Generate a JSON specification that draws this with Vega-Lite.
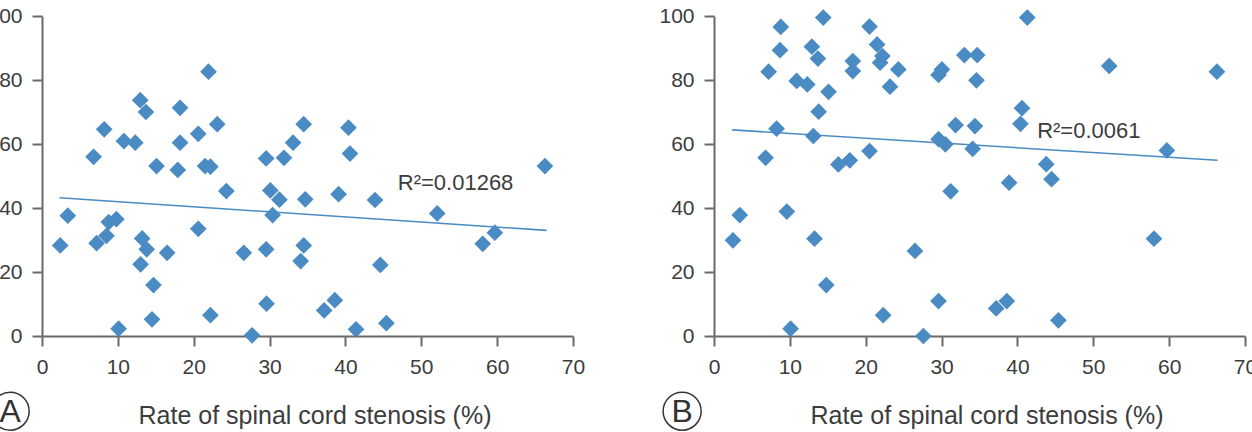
{
  "$schema": "https://vega.github.io/schema/vega-lite/v6.json",
  "autosize": {"type": "none"},
  "padding": {"left": 42, "top": 16, "right": 1210, "bottom": 416},
  "background": "white",
  "spacing": 141,
  "bounds": "flush",
  "datasets": {
    "pointsA": [
      {"rate": 2.4, "score": 28.3}, {"rate": 3.4, "score": 37.6}, {"rate": 6.8, "score": 56.0}, {"rate": 7.2, "score": 29.0},
      {"rate": 8.2, "score": 64.6}, {"rate": 8.5, "score": 31.3}, {"rate": 8.8, "score": 35.6}, {"rate": 9.8, "score": 36.5},
      {"rate": 10.1, "score": 2.3}, {"rate": 10.8, "score": 60.9}, {"rate": 12.3, "score": 60.4}, {"rate": 12.95, "score": 73.7},
      {"rate": 13.0, "score": 22.4}, {"rate": 13.2, "score": 30.5}, {"rate": 13.7, "score": 70.0}, {"rate": 13.8, "score": 27.1},
      {"rate": 14.5, "score": 5.2}, {"rate": 14.7, "score": 15.9}, {"rate": 15.1, "score": 53.1}, {"rate": 16.5, "score": 26.0},
      {"rate": 17.9, "score": 51.9}, {"rate": 18.2, "score": 71.3}, {"rate": 18.2, "score": 60.4}, {"rate": 20.6, "score": 63.2},
      {"rate": 20.6, "score": 33.5}, {"rate": 21.5, "score": 53.1}, {"rate": 21.95, "score": 82.6}, {"rate": 22.2, "score": 52.9},
      {"rate": 22.2, "score": 6.5}, {"rate": 23.1, "score": 66.2}, {"rate": 24.3, "score": 45.3}, {"rate": 26.6, "score": 26.0},
      {"rate": 27.7, "score": 0.2}, {"rate": 29.55, "score": 55.5}, {"rate": 29.55, "score": 27.1}, {"rate": 29.6, "score": 10.1},
      {"rate": 30.1, "score": 45.5}, {"rate": 30.4, "score": 37.8}, {"rate": 31.3, "score": 42.6}, {"rate": 31.9, "score": 55.7},
      {"rate": 33.1, "score": 60.4}, {"rate": 34.1, "score": 23.4}, {"rate": 34.5, "score": 66.2}, {"rate": 34.5, "score": 28.3},
      {"rate": 34.7, "score": 42.7}, {"rate": 37.2, "score": 8.0}, {"rate": 38.6, "score": 11.2}, {"rate": 39.1, "score": 44.3},
      {"rate": 40.4, "score": 65.1}, {"rate": 40.6, "score": 57.0}, {"rate": 41.4, "score": 2.1}, {"rate": 43.9, "score": 42.5},
      {"rate": 44.6, "score": 22.2}, {"rate": 45.4, "score": 4.0}, {"rate": 52.1, "score": 38.3}, {"rate": 58.1, "score": 28.8},
      {"rate": 59.7, "score": 32.3}, {"rate": 66.3, "score": 53.1}
    ],
    "pointsB": [
      {"rate": 2.5, "score": 29.9}, {"rate": 3.4, "score": 37.8}, {"rate": 6.8, "score": 55.7}, {"rate": 7.2, "score": 82.6},
      {"rate": 8.25, "score": 64.8}, {"rate": 8.7, "score": 89.3}, {"rate": 8.8, "score": 96.6}, {"rate": 9.6, "score": 38.9},
      {"rate": 10.1, "score": 2.3}, {"rate": 10.9, "score": 79.7}, {"rate": 12.3, "score": 78.6}, {"rate": 12.9, "score": 90.4},
      {"rate": 13.1, "score": 62.5}, {"rate": 13.25, "score": 30.4}, {"rate": 13.7, "score": 86.7}, {"rate": 13.8, "score": 70.1},
      {"rate": 14.4, "score": 99.5}, {"rate": 14.8, "score": 15.9}, {"rate": 15.1, "score": 76.3}, {"rate": 16.4, "score": 53.6},
      {"rate": 17.9, "score": 54.9}, {"rate": 18.3, "score": 85.9}, {"rate": 18.3, "score": 82.8}, {"rate": 20.5, "score": 96.7},
      {"rate": 20.5, "score": 57.8}, {"rate": 21.5, "score": 91.1}, {"rate": 21.9, "score": 85.4}, {"rate": 22.2, "score": 87.5},
      {"rate": 22.3, "score": 6.5}, {"rate": 23.2, "score": 77.9}, {"rate": 24.3, "score": 83.3}, {"rate": 26.5, "score": 26.6},
      {"rate": 27.6, "score": 0.0}, {"rate": 29.6, "score": 81.6}, {"rate": 30.05, "score": 83.3}, {"rate": 29.6, "score": 61.5},
      {"rate": 30.5, "score": 59.9}, {"rate": 29.6, "score": 10.9}, {"rate": 31.2, "score": 45.2}, {"rate": 31.85, "score": 65.9},
      {"rate": 33.0, "score": 87.8}, {"rate": 34.7, "score": 87.8}, {"rate": 34.6, "score": 79.9}, {"rate": 34.4, "score": 65.6},
      {"rate": 34.1, "score": 58.5}, {"rate": 37.2, "score": 8.6}, {"rate": 38.6, "score": 10.9}, {"rate": 38.9, "score": 47.9},
      {"rate": 40.4, "score": 66.3}, {"rate": 40.6, "score": 71.2}, {"rate": 41.3, "score": 99.5}, {"rate": 43.8, "score": 53.7},
      {"rate": 44.5, "score": 49.0}, {"rate": 45.4, "score": 4.9}, {"rate": 52.1, "score": 84.4}, {"rate": 58.0, "score": 30.4},
      {"rate": 59.7, "score": 58.0}, {"rate": 66.3, "score": 82.6}
    ],
    "fitA": [{"rate": 2.3, "score": 43.2}, {"rate": 66.5, "score": 33.0}],
    "fitB": [{"rate": 2.4, "score": 64.4}, {"rate": 66.4, "score": 54.9}],
    "labelA": [{"panel": "A", "r2": "R²=0.01268"}],
    "labelB": [{"panel": "B", "r2": "R²=0.0061"}]
  },
  "config": {
    "view": {"stroke": null},
    "font": "Liberation Sans",
    "axis": {
      "grid": false,
      "domainColor": "#6a6a6a",
      "domainWidth": 2,
      "tickColor": "#6a6a6a",
      "tickWidth": 2,
      "tickSize": 10,
      "labelFontSize": 21,
      "labelColor": "#3c3c3c",
      "labelPadding": 10,
      "labelFlush": false,
      "labelOverlap": false,
      "titleFontSize": 25,
      "titleFontWeight": "normal",
      "titleColor": "#3c3c3c"
    }
  },
  "hconcat": [
    {
      "width": 531,
      "height": 320,
      "layer": [
        {
          "data": {"name": "pointsA"},
          "mark": {"type": "point", "shape": "diamond", "filled": true, "size": 280, "color": "#4a8bc4", "opacity": 1},
          "encoding": {
            "x": {"field": "rate", "type": "quantitative", "scale": {"domain": [0, 70], "nice": false}, "axis": {"values": [0, 10, 20, 30, 40, 50, 60, 70], "title": "Rate of spinal cord stenosis (%)", "titlePadding": 26, "titleX": 272.5}},
            "y": {"field": "score", "type": "quantitative", "scale": {"domain": [0, 100], "nice": false}, "axis": {"values": [0, 20, 40, 60, 80, 100], "title": null}}
          }
        },
        {
          "data": {"name": "fitA"},
          "mark": {"type": "line", "color": "#4a8bc4", "strokeWidth": 1.6},
          "encoding": {
            "x": {"field": "rate", "type": "quantitative"},
            "y": {"field": "score", "type": "quantitative"}
          }
        },
        {
          "data": {"name": "labelA"},
          "mark": {"type": "text", "align": "left", "baseline": "middle", "fontSize": 22, "color": "#3c3c3c"},
          "encoding": {"text": {"field": "r2"}, "x": {"datum": 46.9}, "y": {"datum": 47.8}}
        },
        {
          "data": {"name": "labelA"},
          "mark": {"type": "point", "shape": "circle", "size": 1444, "filled": false, "stroke": "#333333", "strokeWidth": 1.5, "opacity": 1},
          "encoding": {"x": {"datum": -4.2}, "y": {"datum": -23.5}}
        },
        {
          "data": {"name": "labelA"},
          "mark": {"type": "text", "fontSize": 32, "align": "center", "baseline": "middle", "color": "#333333", "dy": 1},
          "encoding": {"text": {"field": "panel"}, "x": {"datum": -4.2}, "y": {"datum": -23.5}}
        }
      ]
    },
    {
      "width": 531,
      "height": 320,
      "layer": [
        {
          "data": {"name": "pointsB"},
          "mark": {"type": "point", "shape": "diamond", "filled": true, "size": 280, "color": "#4a8bc4", "opacity": 1},
          "encoding": {
            "x": {"field": "rate", "type": "quantitative", "scale": {"domain": [0, 70], "nice": false}, "axis": {"values": [0, 10, 20, 30, 40, 50, 60, 70], "title": "Rate of spinal cord stenosis (%)", "titlePadding": 26, "titleX": 272.5}},
            "y": {"field": "score", "type": "quantitative", "scale": {"domain": [0, 100], "nice": false}, "axis": {"values": [0, 20, 40, 60, 80, 100], "title": null}}
          }
        },
        {
          "data": {"name": "fitB"},
          "mark": {"type": "line", "color": "#4a8bc4", "strokeWidth": 1.6},
          "encoding": {
            "x": {"field": "rate", "type": "quantitative"},
            "y": {"field": "score", "type": "quantitative"}
          }
        },
        {
          "data": {"name": "labelB"},
          "mark": {"type": "text", "align": "left", "baseline": "middle", "fontSize": 22, "color": "#3c3c3c"},
          "encoding": {"text": {"field": "r2"}, "x": {"datum": 42.6}, "y": {"datum": 64.1}}
        },
        {
          "data": {"name": "labelB"},
          "mark": {"type": "point", "shape": "circle", "size": 1444, "filled": false, "stroke": "#333333", "strokeWidth": 1.5, "opacity": 1},
          "encoding": {"x": {"datum": -4.2}, "y": {"datum": -23.5}}
        },
        {
          "data": {"name": "labelB"},
          "mark": {"type": "text", "fontSize": 32, "align": "center", "baseline": "middle", "color": "#333333", "dy": 1},
          "encoding": {"text": {"field": "panel"}, "x": {"datum": -4.2}, "y": {"datum": -23.5}}
        }
      ]
    }
  ]
}
